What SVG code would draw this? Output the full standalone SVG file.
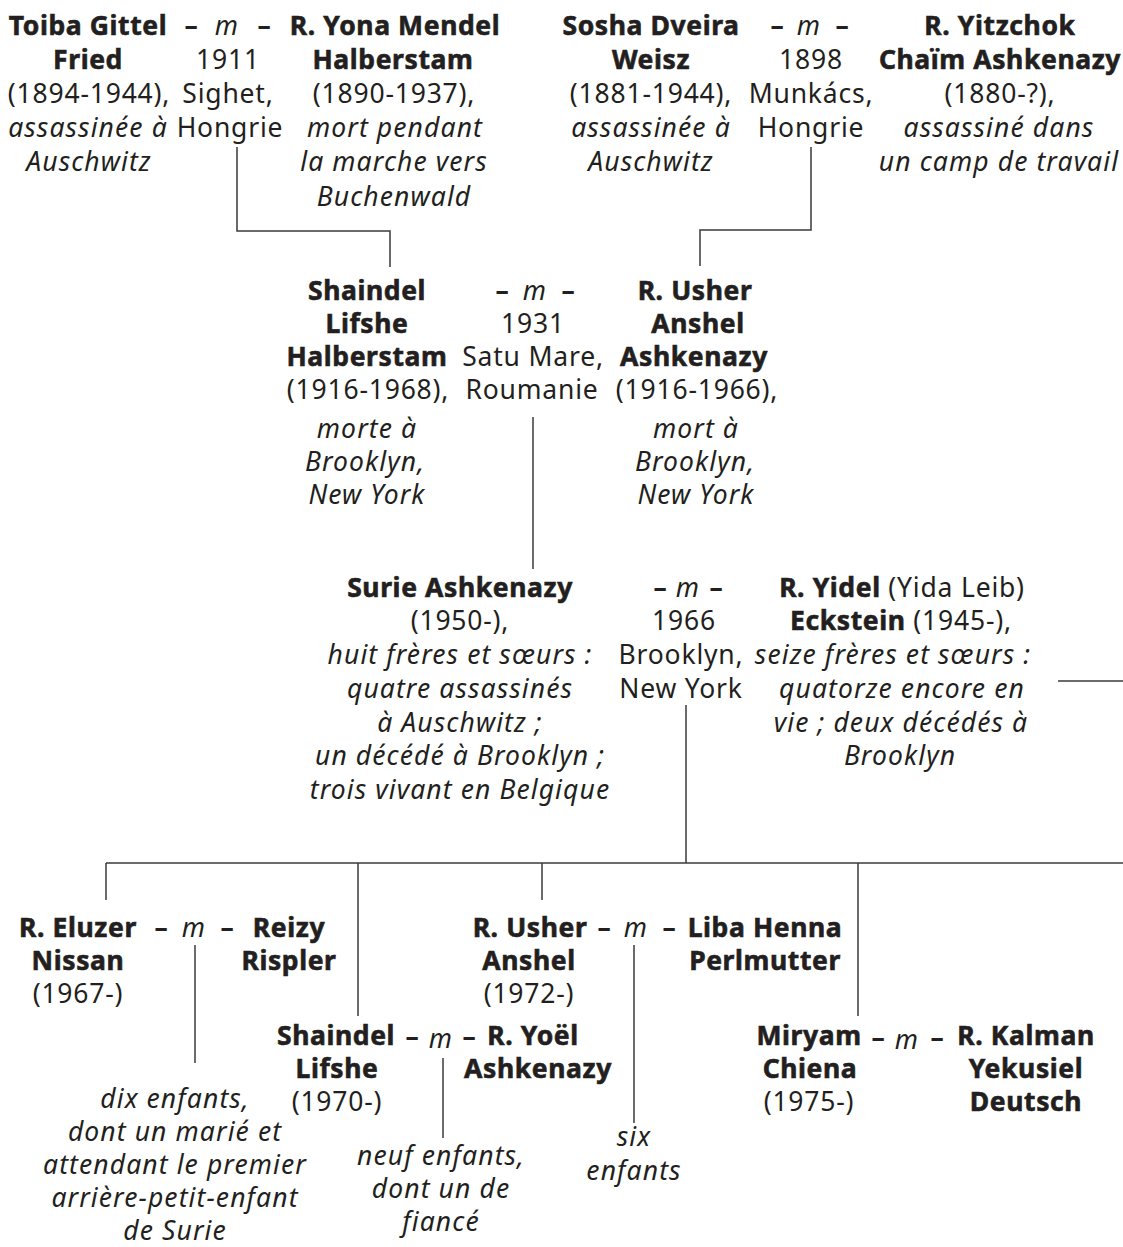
<svg xmlns="http://www.w3.org/2000/svg" width="1123" height="1247" viewBox="0 0 1123 1247">
<style>
text{font-family:"Noto Sans","Open Sans",sans-serif;font-size:26.5px;letter-spacing:0.8px;fill:#231f20;text-anchor:middle}
.b{font-weight:700;letter-spacing:0.6px;stroke:#231f20;stroke-width:0.6px}
.i{font-style:italic;letter-spacing:1.1px}
.d{font-weight:700;letter-spacing:0}
.c line,.c polyline{stroke:#3a3a3a;stroke-width:1.5;fill:none}
</style>
<rect width="1123" height="1247" fill="#fff"/>
<g class="c" id="connectors">
<polyline points="237,147 237,231 390,231 390,267"/>
<polyline points="811,147 811,230 700,230 700,266"/>
<line x1="533" y1="417" x2="533" y2="569"/>
<line x1="686" y1="705" x2="686" y2="863"/>
<line x1="1058" y1="681" x2="1123" y2="681"/>
<line x1="106" y1="863" x2="1123" y2="863"/>
<line x1="106" y1="863" x2="106" y2="900"/>
<line x1="358" y1="863" x2="358" y2="1016"/>
<line x1="542" y1="863" x2="542" y2="900"/>
<line x1="858" y1="863" x2="858" y2="1016"/>
<line x1="195" y1="945" x2="195" y2="1063"/>
<line x1="443" y1="1058" x2="443" y2="1138"/>
<line x1="634" y1="945" x2="634" y2="1123"/>
</g>
<g id="toiba">
<text class="b" x="88" y="35">Toiba Gittel</text>
<text class="b" x="88" y="69">Fried</text>
<text x="89" y="103">(1894-1944),</text>
<text class="i" x="88" y="137">assassinée à</text>
<text class="i" x="89" y="171">Auschwitz</text>
</g>
<g id="m1911">
<text class="d" x="191" y="35">–</text><text class="i" x="227" y="35">m</text><text class="d" x="264" y="35">–</text>
<text x="228" y="69">1911</text>
<text x="228" y="103">Sighet,</text>
<text x="230" y="137">Hongrie</text>
</g>
<g id="yona">
<text class="b" x="395" y="35">R. Yona Mendel</text>
<text class="b" x="393" y="69">Halberstam</text>
<text x="394" y="103">(1890-1937),</text>
<text class="i" x="395" y="137">mort pendant</text>
<text class="i" x="394" y="171">la marche vers</text>
<text class="i" x="394" y="206">Buchenwald</text>
</g>
<g id="sosha">
<text class="b" x="651" y="35">Sosha Dveira</text>
<text class="b" x="651" y="69">Weisz</text>
<text x="651" y="103">(1881-1944),</text>
<text class="i" x="651" y="137">assassinée à</text>
<text class="i" x="651" y="171">Auschwitz</text>
</g>
<g id="m1898">
<text class="d" x="777" y="35">–</text><text class="i" x="809" y="35">m</text><text class="d" x="842" y="35">–</text>
<text x="811" y="69">1898</text>
<text x="811" y="103">Munkács,</text>
<text x="811" y="137">Hongrie</text>
</g>
<g id="yitzchok">
<text class="b" x="1000" y="35">R. Yitzchok</text>
<text class="b" x="1000" y="69">Chaïm Ashkenazy</text>
<text x="1000" y="103">(1880-?),</text>
<text class="i" x="999" y="137">assassiné dans</text>
<text class="i" x="999" y="171">un camp de travail</text>
</g>
<g id="shaindel1">
<text class="b" x="367" y="300">Shaindel</text>
<text class="b" x="367" y="333">Lifshe</text>
<text class="b" x="367" y="366">Halberstam</text>
<text x="368" y="399">(1916-1968),</text>
<text class="i" x="367" y="438">morte à</text>
<text class="i" x="365" y="471">Brooklyn,</text>
<text class="i" x="367" y="504">New York</text>
</g>
<g id="m1931">
<text class="d" x="502" y="300">–</text><text class="i" x="535" y="300">m</text><text class="d" x="568" y="300">–</text>
<text x="533" y="333">1931</text>
<text x="533" y="366">Satu Mare,</text>
<text x="532" y="399">Roumanie</text>
</g>
<g id="usher1">
<text class="b" x="695" y="300">R. Usher</text>
<text class="b" x="698" y="333">Anshel</text>
<text class="b" x="694" y="366">Ashkenazy</text>
<text x="697" y="399">(1916-1966),</text>
<text class="i" x="696" y="438">mort à</text>
<text class="i" x="695" y="471">Brooklyn,</text>
<text class="i" x="696" y="504">New York</text>
</g>
<g id="surie">
<text class="b" x="460" y="597">Surie Ashkenazy</text>
<text x="460" y="630">(1950-),</text>
<text class="i" x="460" y="664">huit frères et sœurs :</text>
<text class="i" x="460" y="698">quatre assassinés</text>
<text class="i" x="460" y="732">à Auschwitz ;</text>
<text class="i" x="460" y="765">un décédé à Brooklyn ;</text>
<text class="i" x="460" y="799">trois vivant en Belgique</text>
</g>
<g id="m1966">
<text class="d" x="660" y="597">–</text><text class="i" x="688" y="597">m</text><text class="d" x="716" y="597">–</text>
<text x="684" y="630">1966</text>
<text x="681" y="664">Brooklyn,</text>
<text x="681" y="698">New York</text>
</g>
<g id="yidel">
<text x="902" y="597"><tspan class="b">R. Yidel</tspan> (Yida Leib)</text>
<text x="901" y="630"><tspan class="b">Eckstein</tspan> (1945-),</text>
<text class="i" x="893" y="664">seize frères et sœurs :</text>
<text class="i" x="902" y="698">quatorze encore en</text>
<text class="i" x="901" y="732">vie ; deux décédés à</text>
<text class="i" x="900" y="765">Brooklyn</text>
</g>
<g id="eluzer">
<text class="b" x="78" y="937">R. Eluzer</text>
<text class="b" x="78" y="970">Nissan</text>
<text x="78" y="1003">(1967-)</text>
</g>
<g id="m-eluzer">
<text class="d" x="161" y="937">–</text><text class="i" x="194" y="937">m</text><text class="d" x="227" y="937">–</text>
</g>
<g id="reizy">
<text class="b" x="289" y="937">Reizy</text>
<text class="b" x="289" y="970">Rispler</text>
</g>
<g id="eluzer-children">
<text class="i" x="175" y="1108">dix enfants,</text>
<text class="i" x="175" y="1141">dont un marié et</text>
<text class="i" x="175" y="1174">attendant le premier</text>
<text class="i" x="175" y="1207">arrière-petit-enfant</text>
<text class="i" x="175" y="1240">de Surie</text>
</g>
<g id="shaindel2">
<text class="b" x="336" y="1045">Shaindel</text>
<text class="b" x="337" y="1078">Lifshe</text>
<text x="337" y="1111">(1970-)</text>
</g>
<g id="m-shaindel">
<text class="d" x="412" y="1046">–</text><text class="i" x="441" y="1048">m</text><text class="d" x="469" y="1046">–</text>
</g>
<g id="yoel">
<text class="b" x="533" y="1045">R. Yoël</text>
<text class="b" x="538" y="1078">Ashkenazy</text>
</g>
<g id="shaindel-children">
<text class="i" x="441" y="1165">neuf enfants,</text>
<text class="i" x="441" y="1198">dont un de</text>
<text class="i" x="441" y="1231">fiancé</text>
</g>
<g id="usher2">
<text class="b" x="530" y="937">R. Usher</text>
<text class="b" x="529" y="970">Anshel</text>
<text x="529" y="1003">(1972-)</text>
</g>
<g id="m-usher">
<text class="d" x="604" y="937">–</text><text class="i" x="636" y="937">m</text><text class="d" x="669" y="937">–</text>
</g>
<g id="liba">
<text class="b" x="765" y="937">Liba Henna</text>
<text class="b" x="765" y="970">Perlmutter</text>
</g>
<g id="usher-children">
<text class="i" x="634" y="1146">six</text>
<text class="i" x="634" y="1180">enfants</text>
</g>
<g id="miryam">
<text class="b" x="809" y="1045">Miryam</text>
<text class="b" x="810" y="1078">Chiena</text>
<text x="809" y="1111">(1975-)</text>
</g>
<g id="m-miryam">
<text class="d" x="878" y="1047">–</text><text class="i" x="907" y="1049">m</text><text class="d" x="937" y="1047">–</text>
</g>
<g id="kalman">
<text class="b" x="1026" y="1045">R. Kalman</text>
<text class="b" x="1026" y="1078">Yekusiel</text>
<text class="b" x="1026" y="1111">Deutsch</text>
</g>
</svg>
